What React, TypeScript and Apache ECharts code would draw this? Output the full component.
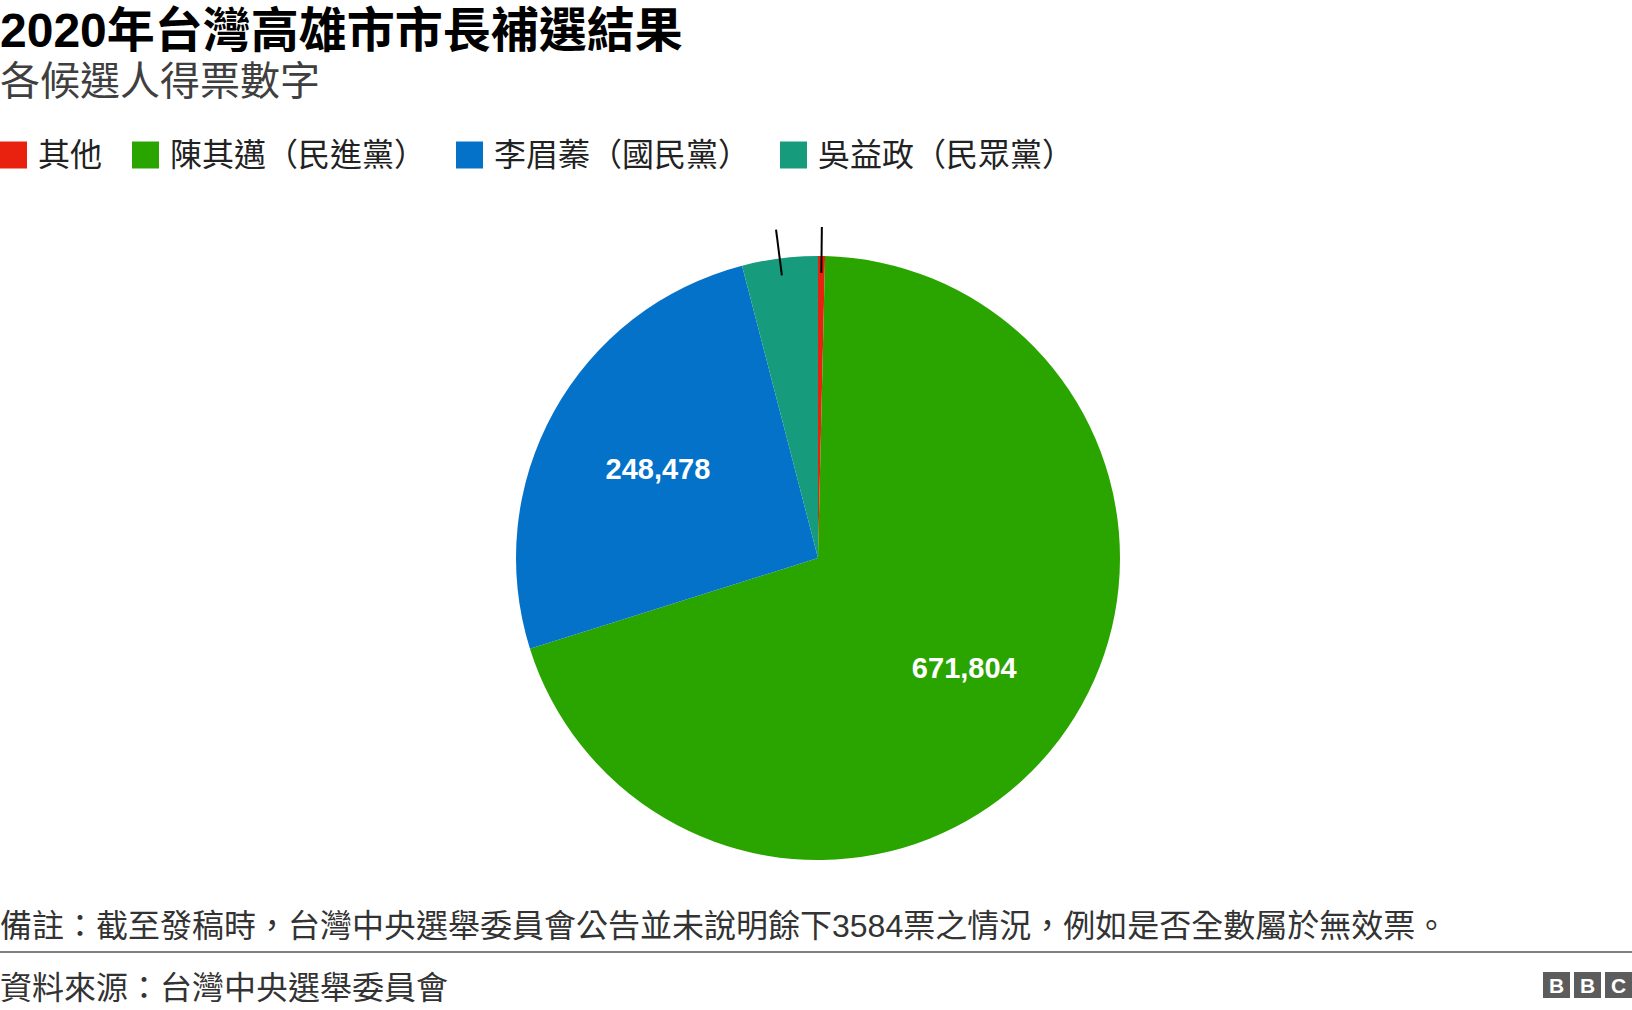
import React, { useEffect, useRef } from "react";
import * as echarts from "echarts";

const categories = ["其他", "陳其邁（民進黨）", "李眉蓁（國民黨）", "吳益政（民眾黨）"];
const votes = [3584, 671804, 248478, 38960];
const colors = ["#e8220f", "#2aa500", "#0572c9", "#169b7c"];
const smallSlices = ["其他", "吳益政（民眾黨）"];

const titleText = "2020年台灣高雄市市長補選結果";
const subtitleText = "各候選人得票數字";
const noteText = "備註：截至發稿時，台灣中央選舉委員會公告並未說明餘下3584票之情況，例如是否全數屬於無效票。";
const sourceText = "資料來源：台灣中央選舉委員會";

const FONT = '"Liberation Sans", Arial, "Noto Sans CJK TC", sans-serif';

export default function App() {
  const ref = useRef<HTMLDivElement>(null);
  useEffect(() => {
    if (!ref.current) return;
    const chart = echarts.init(ref.current, null, { renderer: "svg" });
    const mainData = categories.map((name, i) => ({
      name,
      value: votes[i],
      itemStyle: { color: colors[i] },
    }));
    const overlayData = categories.map((name, i) => {
      const small = smallSlices.includes(name);
      return {
        name,
        value: votes[i],
        itemStyle: { color: "rgba(0,0,0,0)" },
        label: small
          ? { show: true, position: "outside", formatter: " " }
          : { show: true, position: "inside" },
        labelLine: small
          ? { show: true, length: 46, length2: 0, lineStyle: { color: "#000", width: 2 } }
          : { show: false },
      };
    });
    chart.setOption({
      animation: false,
      textStyle: { fontFamily: FONT },
      legend: {
        left: 0,
        top: 139,
        padding: 0,
        icon: "rect",
        itemWidth: 27,
        itemHeight: 27,
        itemGap: 30,
        selectedMode: false,
        data: categories,
        textStyle: {
          fontFamily: FONT,
          fontSize: 32,
          color: "#222",
          padding: [0, 0, 0, 6],
        },
      },
      series: [
        {
          type: "pie",
          z: 1,
          center: [818, 558],
          radius: [0, 302],
          startAngle: 90,
          clockwise: true,
          silent: true,
          label: { show: false },
          labelLine: { show: false },
          emphasis: { disabled: true },
          data: mainData,
        },
        {
          type: "pie",
          z: 5,
          center: [818, 558],
          radius: [75, 285],
          startAngle: 90,
          clockwise: true,
          silent: true,
          avoidLabelOverlap: false,
          legendHoverLink: false,
          emphasis: { disabled: true },
          label: {
            color: "#fff",
            fontFamily: FONT,
            fontWeight: "bold",
            fontSize: 29,
            formatter: (p: any) => Number(p.value).toLocaleString("en-US"),
          },
          data: overlayData,
        },
      ],
      graphic: [
        {
          type: "text",
          left: 0,
          top: 6,
          style: { text: titleText, font: `bold 48px ${FONT}`, fill: "#000" },
        },
        {
          type: "text",
          left: 0,
          top: 61,
          style: { text: subtitleText, font: `40px ${FONT}`, fill: "#3f3f3f" },
        },
        {
          type: "text",
          left: 0,
          top: 910,
          style: { text: noteText, font: `32px ${FONT}`, fill: "#333" },
        },
        {
          type: "line",
          shape: { x1: 0, y1: 952, x2: 1632, y2: 952 },
          style: { stroke: "#7f7f7f", lineWidth: 2 },
        },
        {
          type: "text",
          left: 0,
          top: 972,
          style: { text: sourceText, font: `32px ${FONT}`, fill: "#333" },
        },
        {
          type: "group",
          left: 1543,
          top: 972,
          children: ["B", "B", "C"].flatMap((ch, i) => [
            {
              type: "rect",
              shape: { x: i * 31, y: 0, width: 27, height: 26 },
              style: { fill: "#5c5c5c" },
            },
            {
              type: "text",
              x: i * 31 + 13.5,
              y: 13.5,
              style: {
                text: ch,
                font: `bold 21px ${FONT}`,
                fill: "#fff",
                align: "center",
                verticalAlign: "middle",
                textAlign: "center",
                textVerticalAlign: "middle",
              },
            },
          ]),
        },
      ],
    });
    return () => chart.dispose();
  }, []);
  return (
    <div
      ref={ref}
      style={{ position: "fixed", left: 0, top: 0, width: 1632, height: 1010, background: "#fff" }}
    />
  );
}
